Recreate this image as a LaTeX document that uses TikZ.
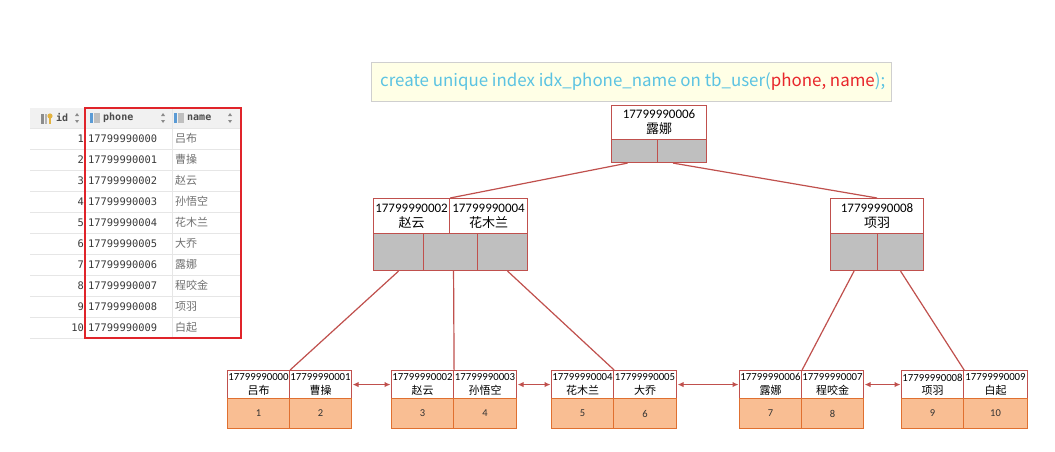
\documentclass[tikz,border=0pt]{standalone}
\usepackage{fontspec}
\setmainfont{Carlito}
\newfontfamily\cjk{Noto Sans CJK SC}
\newfontfamily\monof{DejaVu Sans Mono}
\newfontfamily\codef{Noto Sans CJK SC}[Scale=1]
\usetikzlibrary{arrows.meta,calc}
\definecolor{bred}{HTML}{C0504D}
\definecolor{ptrgray}{HTML}{BFBFBF}
\definecolor{ofill}{HTML}{F9BE93}
\definecolor{oline}{HTML}{E07030}
\definecolor{codefill}{HTML}{FFFFE6}
\definecolor{codeline}{HTML}{CFCFCF}
\definecolor{codecyan}{HTML}{5BC3E2}
\definecolor{codered}{HTML}{E8262B}
\definecolor{tred}{HTML}{E0242A}
\definecolor{hdrgray}{HTML}{F1F1F1}
\definecolor{rowline}{HTML}{E6E6E6}
\definecolor{tabtext}{HTML}{3A3A3A}
\definecolor{nametext}{HTML}{707070}
\definecolor{iconblue}{HTML}{5B9BD5}
\definecolor{keyyellow}{HTML}{E3B341}
\newcommand\boxcell[7]{\node[#6, anchor=north west, minimum width={(#4-#2)*1pt}, minimum height={(#5-#3)*1pt}] (#1) at (#2,#3) {#7};}
\begin{document}
\begin{tikzpicture}[x=1pt,y=-1pt,
  keyc/.style={draw=bred, fill=white, line width=1.1pt, inner sep=0pt, align=center, text=black},
  bigkey/.style={keyc, font=\fontsize{13}{15}\selectfont},
  leafkey/.style={keyc, font=\fontsize{10.8}{13.5}\selectfont},
  ptrc/.style={draw=bred, fill=ptrgray, line width=1.1pt, inner sep=0pt},
  valc/.style={draw=oline, fill=ofill, line width=1pt, inner sep=0pt, text=black!80, font=\fontsize{10.5}{12}\selectfont},
  conn/.style={draw=bred, line width=1.2pt},
  dbl/.style={draw=bred, line width=1.2pt, {Latex[length=6pt,width=5.5pt]}-{Latex[length=6pt,width=5.5pt]}, shorten <=0.5pt, shorten >=0.5pt},
  codebox/.style={draw=codeline, fill=codefill, line width=0.8pt, inner sep=0pt},
  tabnum/.style={inner sep=0pt, text=tabtext, font=\monof\fontsize{10.4}{12}\selectfont},
  tabname/.style={inner sep=0pt, text=nametext, font=\cjk\fontsize{11}{12}\selectfont},
  tabhdr/.style={inner sep=0pt, text=black!70, font=\monof\bfseries\fontsize{10}{12}\selectfont},
  sortmark/.style={fill=black!45}
]
\useasboundingbox (0,0) rectangle (1055,452);
\fill[white] (0,0) rectangle (1055,452);

% ---------- table ----------
\fill[hdrgray] (30,108) rectangle (242,128);
\foreach \i in {0,...,10} \draw[rowline, line width=0.6pt] (30,{128+21*\i}) -- (242,{128+21*\i});
\draw[rowline, line width=0.6pt] (172,108) -- (172,338);
% header icons
\fill[black!45] (41,114) rectangle (43.5,124);
\fill[black!30] (44.5,114) rectangle (47,124);
\fill[keyyellow] (50,116) circle (2.6);
\fill[keyyellow] (49.2,116) rectangle (50.8,124);
\fill[iconblue] (90,113) rectangle (92.5,123);
\fill[black!25] (93.5,113) rectangle (100,123);
\fill[iconblue] (174,113) rectangle (176.5,123);
\fill[black!25] (177.5,113) rectangle (184,123);
\foreach \sx in {77,163,230}{
  \fill[sortmark] ({\sx-2},116) -- ({\sx+2},116) -- (\sx,113) -- cycle;
  \fill[sortmark] ({\sx-2},120) -- ({\sx+2},120) -- (\sx,123) -- cycle;
}
\node[tabhdr, anchor=west] (hid) at (56,118) {id};
\node[tabhdr, anchor=west] (hphone) at (103,118) {phone};
\node[tabhdr, anchor=west] (hname) at (187,118) {name};
\foreach \i/\n in {1/吕布,2/曹操,3/赵云,4/孙悟空,5/花木兰,6/大乔,7/露娜,8/程咬金,9/项羽,10/白起}{
  \pgfmathtruncatemacro\ph{\i-1}
  \node[tabnum, anchor=east] (tid\i) at (84,{117.5+21*\i}) {\i};
  \node[tabnum, anchor=west] (tph\i) at (88,{117.5+21*\i}) {1779999000\ph};
  \node[tabname, anchor=west] (tnm\i) at (175,{117.5+21*\i}) {\n};
}
\draw[tred, line width=1.8pt] (85,108) rectangle (241,338);

% ---------- code box ----------
\boxcell{code}{371}{62}{891}{101}{codebox}{}
\node[anchor=west, inner sep=0pt, font=\codef\fontsize{16.9}{19}\selectfont] (codetxt) at (380,81.5)
  {\textcolor{codecyan}{create unique index idx\_phone\_name on tb\_user(}\textcolor{codered}{phone, name}\textcolor{codecyan}{);}};

% ---------- root ----------
\boxcell{rk}{611}{105}{706}{139}{bigkey}{17799990006\\{\cjk\fontsize{13}{15}\selectfont 露娜}}
\boxcell{rp1}{611}{139}{657}{162}{ptrc}{}
\boxcell{rp2}{657}{139}{706}{162}{ptrc}{}

% ---------- level 2 ----------
\boxcell{ak1}{373}{198}{449}{233}{bigkey}{17799990002\\{\cjk\fontsize{13}{15}\selectfont 赵云}}
\boxcell{ak2}{449}{198}{527}{233}{bigkey}{17799990004\\{\cjk\fontsize{13}{15}\selectfont 花木兰}}
\boxcell{ap1}{373}{233}{423}{270}{ptrc}{}
\boxcell{ap2}{423}{233}{477}{270}{ptrc}{}
\boxcell{ap3}{477}{233}{527}{270}{ptrc}{}

\boxcell{bk}{830}{198}{923}{233}{bigkey}{17799990008\\{\cjk\fontsize{13}{15}\selectfont 项羽}}
\boxcell{bp1}{830}{233}{877}{270}{ptrc}{}
\boxcell{bp2}{877}{233}{923}{270}{ptrc}{}

% ---------- leaves ----------
\newcommand\leaf[9]{%
  \boxcell{#1a}{#2}{370}{#3}{398}{leafkey}{#5\\{\cjk\fontsize{11}{13.5}\selectfont #6}}
  \boxcell{#1b}{#3}{370}{#4}{398}{leafkey}{#7\\{\cjk\fontsize{11}{13.5}\selectfont #8}}
  \boxcell{#1c}{#2}{398}{#3}{428}{valc}{\the\numexpr#9\relax}
  \boxcell{#1d}{#3}{398}{#4}{428}{valc}{\the\numexpr#9+1\relax}
}
\leaf{l1}{227}{289}{351}{17799990000}{吕布}{17799990001}{曹操}{1}
\leaf{l2}{391}{453}{516}{17799990002}{赵云}{17799990003}{孙悟空}{3}
\leaf{l3}{551}{613}{676}{17799990004}{花木兰}{17799990005}{大乔}{5}
\leaf{l4}{739}{801}{863}{17799990006}{露娜}{17799990007}{程咬金}{7}
\leaf{l5}{901}{963}{1027}{17799990008}{项羽}{17799990009}{白起}{9}

% ---------- connectors ----------
\draw[conn] ($(rp1.south)+(-7,0)$) -- (ak1.north east);
\draw[conn] ($(rp2.south)+(-9,0)$) -- (bk.north);
\draw[conn] (ap1.south) -- (l1a.north east);
\draw[conn] ($(ap2.south)+(3,0)$) -- (l2a.north east);
\draw[conn] ($(ap3.south)+(5,0)$) -- (l3a.north east);
\draw[conn] (bp1.south) -- (l4a.north east);
\draw[conn] (bp2.south) -- (l5a.north east);

\draw[dbl] (l1b.east) -- (l2a.west);
\draw[dbl] (l2b.east) -- (l3a.west);
\draw[dbl] (l3b.east) -- (l4a.west);
\draw[dbl] (l4b.east) -- (l5a.west);
\end{tikzpicture}
\end{document}
